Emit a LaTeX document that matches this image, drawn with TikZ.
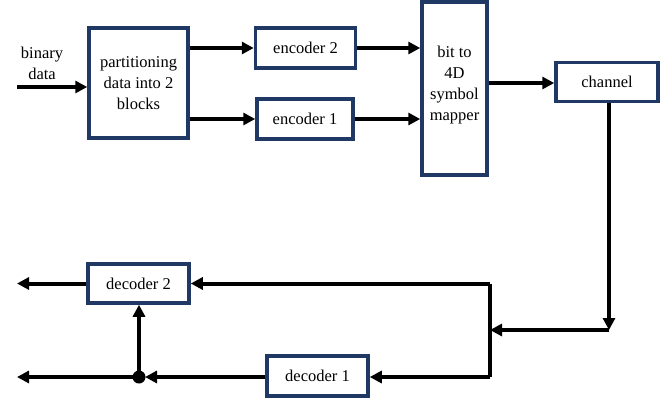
\documentclass[tikz,border=0pt]{standalone}
\usepackage{fontspec}
\setmainfont{Liberation Serif}
\usetikzlibrary{arrows.meta}
\definecolor{navy}{HTML}{203864}
\tikzset{
  blk/.style={draw=navy, line width=3.5pt, fill=white, inner sep=0pt, align=center,
    font=\fontsize{16.5}{21}\selectfont},
  txt/.style={inner sep=0pt, align=center, font=\fontsize{16.5}{21}\selectfont},
  conn/.style={line width=4pt, -{Triangle[length=12pt,width=12pt]}},
  plain/.style={line width=4pt},
}
\begin{document}
\begin{tikzpicture}[x=1pt,y=-1pt]
\useasboundingbox (0,0) rectangle (671,402);
\node[blk, minimum width=99pt, minimum height=110pt] (part) at (138.5,83) {partitioning\\data into 2\\blocks};
\node[blk, minimum width=100pt, minimum height=40pt] (enc2) at (305.5,48) {encoder 2};
\node[blk, minimum width=96pt, minimum height=40pt] (enc1) at (305,119) {encoder 1};
\node[blk, minimum width=65pt, minimum height=173pt] (map) at (454.5,88.5) {};
\node[txt] (maptxt) at (454.5,85) {bit to\\4D\\symbol\\mapper};
\node[blk, minimum width=102pt, minimum height=39pt] (chan) at (607,82) {channel};
\node[blk, minimum width=101pt, minimum height=39pt] (dec2) at (138.5,283.5) {decoder 2};
\node[blk, minimum width=101pt, minimum height=40pt] (dec1) at (317.5,376) {decoder 1};
\node[txt] (bin) at (42,63) {binary\\data};
\coordinate (in) at (17,87);
\coordinate (o2) at (17,283.5);
\coordinate (o1) at (17,377);
\coordinate (dot) at (139,377);
\coordinate (cb) at (609,330);
\coordinate (jm) at (490,330);
\coordinate (jt) at (490,283.5);
\coordinate (jb) at (490,377);

\draw[conn] (in) -- (in -| part.west);
\draw[conn] (part.east |- enc2) -- (enc2.west);
\draw[conn] (part.east |- enc1) -- (enc1.west);
\draw[conn] (enc2.east) -- (enc2.east -| map.west);
\draw[conn] (enc1.east) -- (enc1.east -| map.west);
\draw[conn] (map.east |- 0,83) -- (chan.west |- 0,83);
\draw[conn] (chan.south -| cb) -- (cb);
\draw[conn] (cb) -- (jm);
\draw[plain] (jt) -- (jb);
\draw[conn] (jt) -- (dec2.east);
\draw[conn] (jb) -- (dec1.east |- jb);
\draw[conn] (dec1.west |- jb) -- ([xshift=6pt]dot);
\draw[conn] (dot) -- (o1);
\draw[conn] (dec2.west) -- (o2);
\draw[conn] (dot) -- (dot |- dec2.south);
\fill (dot) circle (6.5pt);
\end{tikzpicture}
\end{document}
